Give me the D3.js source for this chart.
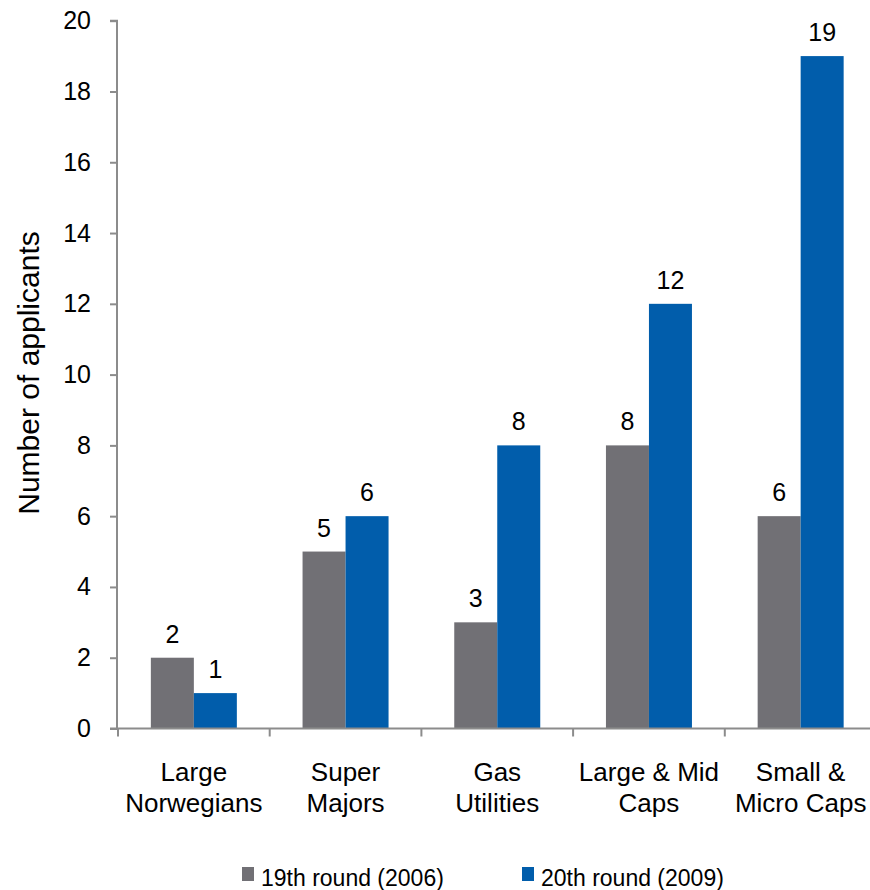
<!DOCTYPE html>
<html><head><meta charset="utf-8">
<script src="https://cdn.jsdelivr.net/npm/d3@7"></script>
<style>body{margin:0;background:#fff}svg{display:block}text{font-family:"Liberation Sans",Arial,sans-serif;fill:#000}</style>
</head><body><svg id="c" width="870" height="890"></svg>
<script>
const categories = [["Large","Norwegians"],["Super","Majors"],["Gas","Utilities"],["Large & Mid","Caps"],["Small &","Micro Caps"]];
const seriesNames = ["19th round (2006)","20th round (2009)"];
const round19 = [2,5,3,8,6];
const round20 = [1,6,8,12,19];
const yTicks = [0,2,4,6,8,10,12,14,16,18,20];
const colors = ["#717075","#015dab"];
const yTitle = "Number of applicants";

const svg = d3.select("#c");
const pL = 117, pR = 876.5, pT = 20.7, pB = 728.5;
const keys = categories.map(c => c.join(" "));
const x0 = d3.scaleBand().domain(keys).range([pL+1, pR]).padding(0);
const x1 = d3.scaleBand().domain(seriesNames).range([0, x0.bandwidth()]).paddingInner(0).paddingOuter(0.764);
const y = d3.scaleLinear().domain([0,20]).range([pB, pT]);
const series = [round19, round20];

// y axis
const ya = svg.append("g").attr("transform", `translate(${pL},0)`)
  .call(d3.axisLeft(y).tickValues(yTicks).tickSize(7).tickPadding(19).tickFormat(d3.format("d")));
ya.select(".domain").attr("stroke", "#8c8c8c").attr("stroke-width", 2).attr("d", `M-7,${pT}H0V${pB}`);
ya.selectAll(".tick line").attr("stroke", "#8c8c8c").attr("stroke-width", 2);
ya.selectAll(".tick text").attr("font-size", 25).attr("font-family", "Liberation Sans, Arial, sans-serif").attr("fill", "#000");

// bars
categories.forEach((c, i) => {
  series.forEach((s, j) => {
    svg.append("rect")
      .attr("x", x0(keys[i]) + x1(seriesNames[j]))
      .attr("y", y(s[i]))
      .attr("width", x1.bandwidth())
      .attr("height", y(0) - y(s[i]))
      .attr("fill", colors[j]);
    svg.append("text")
      .attr("x", x0(keys[i]) + x1(seriesNames[j]) + x1.bandwidth()/2)
      .attr("y", y(s[i]) - 15)
      .attr("text-anchor", "middle")
      .attr("font-size", 25)
      .text(s[i]);
  });
});

// x axis
const xa = svg.append("g").attr("transform", `translate(0,${pB})`)
  .call(d3.axisBottom(x0).tickSize(0).tickFormat(""));
xa.select(".domain").attr("stroke", "#8c8c8c").attr("stroke-width", 2).attr("d", `M${pL-7},0H${pR}`);
xa.selectAll(".tick").remove();
const bounds = keys.map(k => x0(k)).concat([x0(keys[keys.length-1]) + x0.bandwidth()]);
svg.append("g").selectAll("line").data(bounds).join("line")
  .attr("x1", d => d).attr("x2", d => d)
  .attr("y1", pB).attr("y2", pB + 8)
  .attr("stroke", "#8c8c8c").attr("stroke-width", 2);

categories.forEach((c, i) => {
  const t = svg.append("text")
    .attr("x", x0(keys[i]) + x0.bandwidth()/2)
    .attr("y", 781)
    .attr("text-anchor", "middle")
    .attr("font-size", 26);
  c.forEach((line, k) => {
    t.append("tspan").attr("x", x0(keys[i]) + x0.bandwidth()/2).attr("dy", k === 0 ? 0 : 30.5).text(line);
  });
});

// y title
svg.append("text")
  .attr("transform", "translate(39,373) rotate(-90)")
  .attr("text-anchor", "middle")
  .attr("font-size", 30)
  .text(yTitle);

// legend
const legX = [242, 522];
seriesNames.forEach((n, j) => {
  svg.append("rect").attr("x", legX[j]).attr("y", 867).attr("width", 12).attr("height", 14).attr("fill", colors[j]);
  svg.append("text").attr("x", legX[j] + 19).attr("y", 886).attr("font-size", 23).text(n);
});
</script></body></html>
